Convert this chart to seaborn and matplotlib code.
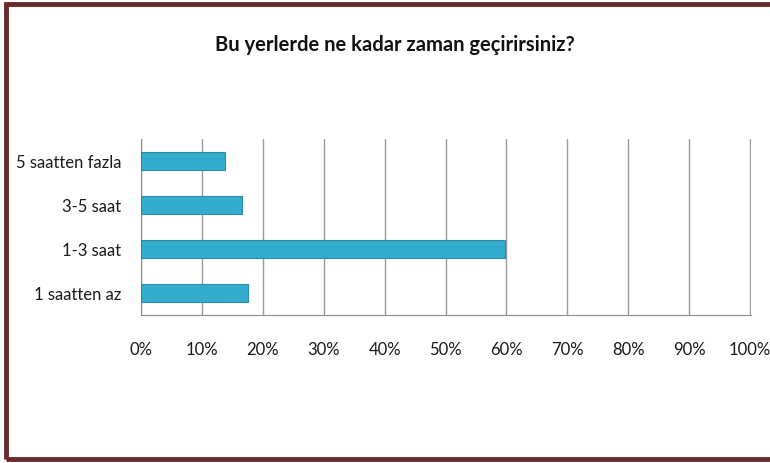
import matplotlib
matplotlib.use('Agg')
import matplotlib.pyplot as plt
import matplotlib.patches as patches
import matplotlib.ticker as mticker
import seaborn as sns
import pandas as pd

# veriler
categories = ['5 saatten fazla', '3-5 saat', '1-3 saat', '1 saatten az']
values = [13.8, 16.6, 59.7, 17.6]
title = 'Bu yerlerde ne kadar zaman geçirirsiniz?'

sns.set_style('white')
plt.rcParams['font.family'] = ['Lato', 'DejaVu Sans']

df = pd.DataFrame({'kategori': categories, 'oran': values})

fig = plt.figure(figsize=(7.7, 4.64), dpi=100)
ax = fig.add_axes([141 / 770, 1 - 316 / 464, 610 / 770, 176 / 464])

sns.barplot(data=df, y='kategori', x='oran', order=categories, orient='h',
            color='#33ACCF', saturation=1, width=0.39, ax=ax, zorder=3)
for p in ax.patches:
    p.set_edgecolor('#2A8CA8')
    p.set_linewidth(0.8)

ax.set_xlim(0, 100.15)
ax.xaxis.set_major_locator(mticker.MultipleLocator(10))
ax.xaxis.set_major_formatter(mticker.FuncFormatter(lambda v, _: f'{int(v)}%'))
ax.grid(axis='x', color='#9A9A9A', linewidth=1, zorder=0)
ax.set_axisbelow(True)
for s in ['top', 'right']:
    ax.spines[s].set_visible(False)
for s in ['left', 'bottom']:
    ax.spines[s].set_color('#8C8C8C')
ax.set_xlabel('')
ax.set_ylabel('')
ax.tick_params(axis='x', labelsize=12, pad=19, length=0, colors='#1A1A1A')
ax.tick_params(axis='y', labelsize=12, pad=14, length=0, colors='#1A1A1A')

fig.text(395 / 770, 1 - 45 / 464, title, ha='center', va='center',
         fontsize=14.5, fontweight='bold', color='#111111')

# çerçeve
fig.patches.append(patches.Rectangle((6 / 770, 4 / 464), 770 / 770, 455 / 464,
                                     transform=fig.transFigure, fill=False,
                                     edgecolor='#6B2A2A', linewidth=3.5))

fig.savefig('out.png', dpi=100)
